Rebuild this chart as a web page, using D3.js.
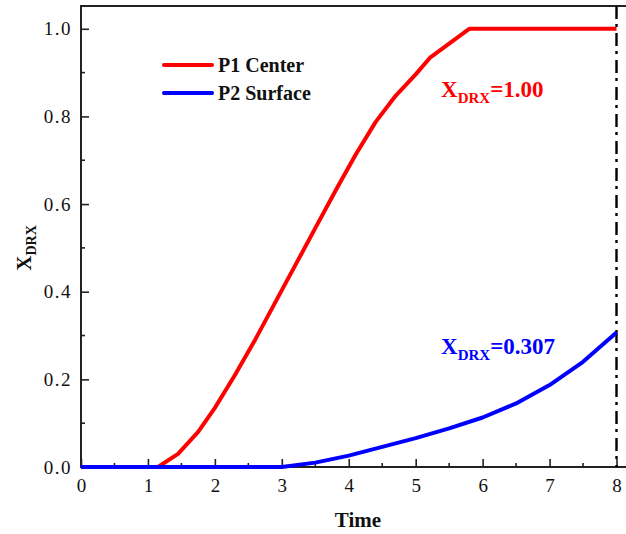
<!DOCTYPE html>
<html>
<head>
<meta charset="utf-8">
<script src="https://cdn.jsdelivr.net/npm/d3@7"></script>
<style>
	body { margin: 0; background: #fff; }
	text { font-family: 'Liberation Serif', 'Times New Roman', serif; }
</style>
</head>
<body>
<script>
// data
var timeP1 = [0, 1.15, 1.45, 1.75, 2.0, 2.3, 2.6, 2.9, 3.2, 3.5, 3.8, 4.1, 4.4, 4.7, 5.0, 5.22, 5.8, 8];
var xdrxP1 = [0, 0, 0.03, 0.08, 0.135, 0.21, 0.29, 0.375, 0.46, 0.545, 0.63, 0.712, 0.787, 0.847, 0.896, 0.935, 1.0, 1.0];
var timeP2 = [0, 3.0, 3.5, 4.0, 4.5, 5.0, 5.5, 6.0, 6.5, 7.0, 7.5, 8.0];
var xdrxP2 = [0, 0, 0.01, 0.026, 0.046, 0.066, 0.088, 0.113, 0.145, 0.187, 0.24, 0.307];
var xTicks = [0, 1, 2, 3, 4, 5, 6, 7, 8];
var yTicks = [0, 0.2, 0.4, 0.6, 0.8, 1.0];
var seriesNames = ['P1 Center', 'P2 Surface'];
var seriesColors = ['#ff0000', '#0000ff'];

var W = 626, H = 534;
var margin = { top: 6, left: 81, bottom: 67 };

var svg = d3.select('body')
	.append('svg')
	.attr('width', W)
	.attr('height', H);

var x = d3.scaleLinear().domain([0, 8]).range([margin.left, 616.5]);
var y = d3.scaleLinear().domain([0, 1.052]).range([H - margin.bottom, margin.top]);

// minor ticks
var xMinor = d3.range(0.5, 8, 1);
var yMinor = d3.range(0.1, 1.05, 0.2);

var axisColor = '#222';

// axes
var xAxis = d3.axisBottom(x)
	.tickValues(xTicks)
	.tickSize(-8)
	.tickPadding(12)
	.tickFormat(d3.format('d'));
var yAxis = d3.axisLeft(y)
	.tickValues(yTicks)
	.tickSize(-8)
	.tickPadding(9)
	.tickFormat(d3.format('.1f'));

var gx = svg.append('g')
	.attr('transform', 'translate(0,' + y(0) + ')')
	.call(xAxis);
gx.select('.domain').remove();
gx.selectAll('.tick line').attr('stroke', axisColor).attr('stroke-width', 1.6);
gx.selectAll('.tick text').attr('font-size', 19).attr('fill', '#111')
	.attr('font-family', "'Liberation Serif', serif");

gx.selectAll('.minor').data(xMinor).enter().append('line')
	.attr('x1', function (d) { return x(d); })
	.attr('x2', function (d) { return x(d); })
	.attr('y1', 0).attr('y2', -4)
	.attr('stroke', axisColor).attr('stroke-width', 1.6);

var gy = svg.append('g')
	.attr('transform', 'translate(' + margin.left + ',0)')
	.call(yAxis);
gy.select('.domain').remove();
gy.selectAll('.tick line').attr('stroke', axisColor).attr('stroke-width', 1.6);
gy.selectAll('.tick text').attr('font-size', 19).attr('fill', '#111')
	.attr('letter-spacing', 1.5)
	.attr('font-family', "'Liberation Serif', serif");

gy.selectAll('.minor').data(yMinor).enter().append('line')
	.attr('x1', 0).attr('x2', 4)
	.attr('y1', function (d) { return y(d); })
	.attr('y2', function (d) { return y(d); })
	.attr('stroke', axisColor).attr('stroke-width', 1.6);

// frame: left, bottom, top (right side runs off the page)
svg.append('path')
	.attr('d', 'M' + W + ',' + margin.top + 'H' + margin.left + 'V' + y(0) + 'H' + W)
	.attr('fill', 'none')
	.attr('stroke', axisColor)
	.attr('stroke-width', 2);

// vertical dash-dot at t = 8
svg.append('line')
	.attr('x1', x(8)).attr('x2', x(8))
	.attr('y1', margin.top).attr('y2', y(0))
	.attr('stroke', '#000')
	.attr('stroke-width', 2.4)
	.attr('stroke-dasharray', '13,5,3,6');

// lines
var line = d3.line()
	.x(function (d) { return x(d[0]); })
	.y(function (d) { return y(d[1]); });

var series = [d3.zip(timeP1, xdrxP1), d3.zip(timeP2, xdrxP2)];
series.forEach(function (ds, i) {
	svg.append('path')
		.datum(ds)
		.attr('d', line)
		.attr('fill', 'none')
		.attr('stroke', seriesColors[i])
		.attr('stroke-width', 4)
		.attr('stroke-linejoin', 'round');
});

// legend
seriesNames.forEach(function (name, i) {
	var ly = 65 + i * 28;
	svg.append('line')
		.attr('x1', 164).attr('x2', 212)
		.attr('y1', ly).attr('y2', ly)
		.attr('stroke', seriesColors[i])
		.attr('stroke-width', 4)
		.attr('stroke-linecap', 'round');
	svg.append('text')
		.attr('x', 218).attr('y', ly + 7)
		.attr('font-size', 20)
		.attr('font-weight', 'bold')
		.attr('fill', '#111')
		.text(name);
});

// annotations
function annot(xp, yp, color, value) {
	var t = svg.append('text')
		.attr('x', xp).attr('y', yp)
		.attr('fill', color)
		.attr('font-size', 23)
		.attr('font-weight', 'bold');
	t.append('tspan').text('X');
	t.append('tspan').attr('font-size', 15).attr('dy', 6).text('DRX');
	t.append('tspan').attr('dy', -6).text('=' + value);
}
annot(441, 97, seriesColors[0], '1.00');
annot(441, 354, seriesColors[1], '0.307');

// axis titles
svg.append('text')
	.attr('x', 358).attr('y', 527)
	.attr('text-anchor', 'middle')
	.attr('font-size', 21)
	.attr('font-weight', 'bold')
	.attr('fill', '#111')
	.text('Time');

var yt = svg.append('text')
	.attr('transform', 'translate(31,' + 248 + ') rotate(-90)')
	.attr('text-anchor', 'middle')
	.attr('font-size', 21)
	.attr('font-weight', 'bold')
	.attr('fill', '#111');
yt.append('tspan').text('X');
yt.append('tspan').attr('font-size', 14).attr('dy', 5).text('DRX');
</script>
</body>
</html>
